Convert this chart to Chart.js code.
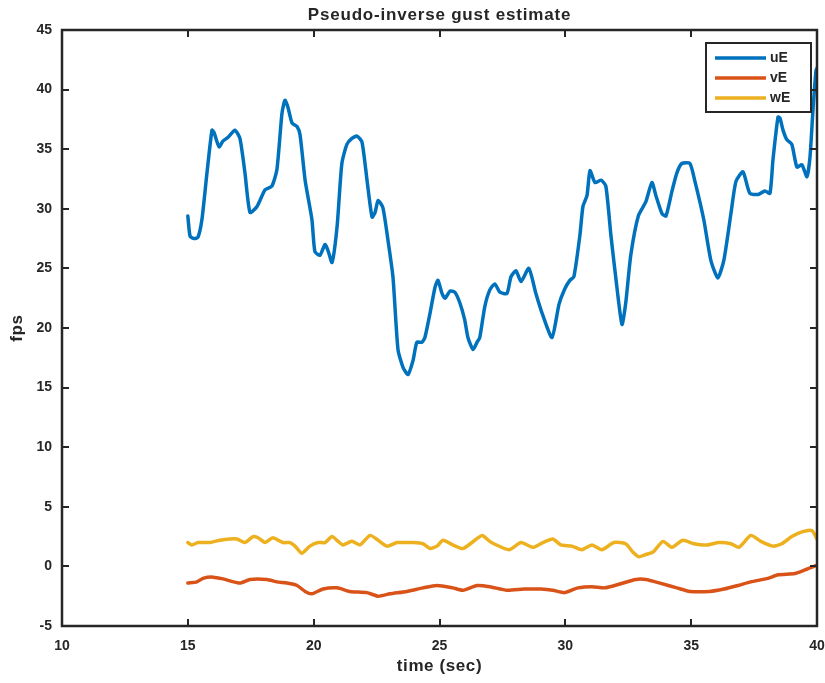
<!DOCTYPE html>
<html>
<head>
<meta charset="utf-8">
<script src="https://cdn.jsdelivr.net/npm/chart.js@4.4.1/dist/chart.umd.min.js"></script>
<style>
  html, body { margin: 0; padding: 0; background: #fff; }
  canvas { display: block; }
</style>
</head>
<body>
<canvas id="gust" width="825" height="683"></canvas>
<script>
//axis limits and tick labels
const xTicks = [10, 15, 20, 25, 30, 35, 40];
const yTicks = [-5, 0, 5, 10, 15, 20, 25, 30, 35, 40, 45];
const seriesNames = ["uE", "vE", "wE"];
const seriesColors = ["#0072BD", "#D95319", "#EDB120"];

//uE (time in sec, value in fps)
const uTime = [15.0, 15.09, 15.25, 15.4, 15.56, 15.76, 15.96, 16.04, 16.24, 16.4, 16.6, 16.87, 17.07, 17.27, 17.47, 17.75, 18.07, 18.34, 18.54, 18.74, 18.86, 18.98, 19.14, 19.34, 19.46, 19.66, 19.93, 20.05, 20.25, 20.45, 20.57, 20.73, 20.93, 21.12, 21.32, 21.52, 21.72, 21.92, 22.12, 22.32, 22.44, 22.56, 22.75, 22.95, 23.15, 23.35, 23.55, 23.75, 23.95, 24.1, 24.3, 24.42, 24.62, 24.82, 24.94, 25.1, 25.22, 25.42, 25.61, 25.81, 26.0, 26.13, 26.33, 26.49, 26.6, 26.8, 27.0, 27.2, 27.4, 27.68, 27.84, 28.04, 28.24, 28.55, 28.83, 29.1, 29.47, 29.75, 29.98, 30.18, 30.34, 30.58, 30.7, 30.86, 30.98, 31.18, 31.42, 31.61, 31.81, 32.0, 32.25, 32.4, 32.6, 32.9, 33.2, 33.44, 33.6, 33.84, 34.0, 34.24, 34.43, 34.63, 34.95, 35.15, 35.5, 35.78, 36.06, 36.3, 36.58, 36.78, 37.06, 37.33, 37.66, 37.93, 38.13, 38.25, 38.45, 38.53, 38.65, 38.8, 39.0, 39.2, 39.4, 39.6, 39.72, 39.84, 39.96, 40.0];
const uE = [29.4, 27.7, 27.5, 27.6, 29.1, 33.0, 36.6, 36.4, 35.2, 35.7, 36.0, 36.6, 35.9, 33.0, 29.7, 30.2, 31.6, 31.9, 33.3, 38.0, 39.1, 38.5, 37.2, 36.9, 36.2, 32.4, 29.1, 26.4, 26.1, 27.0, 26.5, 25.5, 28.5, 33.8, 35.4, 35.9, 36.1, 35.6, 32.4, 29.3, 29.7, 30.7, 30.1, 27.4, 24.3, 18.2, 16.7, 16.1, 17.3, 18.8, 18.8, 19.2, 21.2, 23.4, 24.0, 22.9, 22.5, 23.1, 23.0, 22.1, 20.7, 19.2, 18.2, 18.8, 19.2, 21.8, 23.2, 23.7, 23.0, 22.9, 24.3, 24.8, 23.9, 25.0, 22.9, 21.1, 19.2, 22.0, 23.3, 24.0, 24.3, 27.8, 30.2, 31.1, 33.2, 32.2, 32.4, 31.9, 27.8, 24.3, 20.3, 22.1, 26.1, 29.4, 30.6, 32.2, 31.1, 29.6, 29.4, 31.5, 33.0, 33.8, 33.8, 32.3, 29.1, 25.7, 24.2, 25.7, 29.6, 32.3, 33.1, 31.3, 31.2, 31.5, 31.3, 34.1, 37.7, 37.6, 36.6, 35.8, 35.4, 33.5, 33.7, 32.7, 34.3, 38.3, 41.6, 41.8];

//vE
const vTime = [15.0, 15.36, 15.6, 16.0, 16.4, 17.07, 17.47, 18.14, 18.54, 18.94, 19.34, 19.66, 19.93, 20.37, 20.93, 21.44, 22.12, 22.56, 23.03, 23.7, 24.34, 24.9, 25.53, 25.93, 26.49, 27.0, 27.68, 28.36, 29.03, 29.5, 29.98, 30.5, 31.06, 31.57, 32.13, 32.8, 33.2, 33.76, 34.43, 34.95, 35.74, 36.3, 36.86, 37.37, 38.05, 38.45, 39.12, 39.52, 40.0];
const vE = [-1.4, -1.3, -1.0, -0.9, -1.05, -1.4, -1.1, -1.1, -1.3, -1.4, -1.6, -2.1, -2.3, -1.9, -1.8, -2.1, -2.2, -2.5, -2.3, -2.1, -1.8, -1.6, -1.8, -2.0, -1.6, -1.7, -2.0, -1.9, -1.9, -2.0, -2.2, -1.8, -1.7, -1.8, -1.5, -1.1, -1.1, -1.4, -1.8, -2.1, -2.1, -1.9, -1.6, -1.3, -1.0, -0.7, -0.6, -0.3, 0.1];

//wE
const wTime = [15.0, 15.16, 15.4, 15.88, 16.28, 16.67, 16.95, 17.27, 17.59, 17.79, 18.07, 18.38, 18.78, 19.06, 19.26, 19.53, 19.85, 20.17, 20.45, 20.73, 20.97, 21.16, 21.52, 21.84, 22.24, 22.56, 22.91, 23.31, 23.63, 23.95, 24.34, 24.62, 24.9, 25.14, 25.53, 25.93, 26.29, 26.69, 27.0, 27.16, 27.76, 28.24, 28.71, 29.11, 29.5, 29.82, 30.26, 30.66, 31.06, 31.45, 31.93, 32.4, 32.68, 32.92, 33.2, 33.48, 33.88, 34.24, 34.67, 35.11, 35.63, 36.1, 36.58, 36.9, 37.37, 37.77, 38.25, 38.6, 39.0, 39.4, 39.8, 40.0];
const wE = [2.0, 1.8, 2.0, 2.0, 2.2, 2.3, 2.3, 2.0, 2.5, 2.4, 2.0, 2.4, 2.0, 2.0, 1.7, 1.1, 1.7, 2.0, 2.0, 2.5, 2.1, 1.8, 2.1, 1.8, 2.6, 2.2, 1.7, 2.0, 2.0, 2.0, 1.9, 1.5, 1.7, 2.2, 1.8, 1.5, 2.0, 2.6, 2.1, 1.9, 1.4, 2.0, 1.6, 2.0, 2.3, 1.8, 1.7, 1.4, 1.8, 1.4, 2.0, 1.9, 1.2, 0.8, 1.0, 1.2, 2.1, 1.6, 2.2, 1.9, 1.8, 2.0, 1.9, 1.6, 2.6, 2.1, 1.7, 1.9, 2.5, 2.9, 3.0, 2.3];

const FONT = '"Liberation Sans", Arial, sans-serif';
const INK = "#262626";

const pts = (t, v) => t.map((x, i) => ({ x: x, y: v[i] }));

//box, inward ticks, legend and labels drawn matlab style
const frame = {
  id: "frame",
  afterDatasetsDraw(chart) {
    const ctx = chart.ctx;
    const { left, right, top, bottom } = chart.chartArea;
    const xs = chart.scales.x, ys = chart.scales.y;
    const tl = 7;
    ctx.save();
    ctx.strokeStyle = INK;
    ctx.lineWidth = 2;
    ctx.beginPath();
    xs.ticks.forEach(t => {
      const px = Math.round(xs.getPixelForValue(t.value));
      ctx.moveTo(px, bottom); ctx.lineTo(px, bottom - tl);
      ctx.moveTo(px, top); ctx.lineTo(px, top + tl);
    });
    ys.ticks.forEach(t => {
      const py = Math.round(ys.getPixelForValue(t.value));
      ctx.moveTo(left, py); ctx.lineTo(left + tl, py);
      ctx.moveTo(right, py); ctx.lineTo(right - tl, py);
    });
    ctx.stroke();
    ctx.lineWidth = 2.5;
    ctx.strokeRect(left, top, right - left, bottom - top);

    //legend
    const bx = 706, by = 43, bw = 105, bh = 69;
    ctx.fillStyle = "#fff";
    ctx.fillRect(bx, by, bw, bh);
    ctx.lineWidth = 2;
    ctx.strokeRect(bx, by, bw, bh);
    ctx.font = "bold 14px " + FONT;
    ctx.textBaseline = "middle";
    ctx.textAlign = "left";
    chart.data.datasets.forEach((ds, i) => {
      const ly = by + 15 + i * 20;
      ctx.strokeStyle = ds.borderColor;
      ctx.lineWidth = 3.5;
      ctx.beginPath();
      ctx.moveTo(bx + 9, ly); ctx.lineTo(bx + 60, ly);
      ctx.stroke();
      ctx.fillStyle = INK;
      ctx.fillText(ds.label, bx + 64, ly);
    });

    //title and axis labels
    const cx = (left + right) / 2;
    ctx.fillStyle = INK;
    ctx.textAlign = "center";
    ctx.letterSpacing = "0.8px";
    ctx.font = "bold 17px " + FONT;
    ctx.fillText("Pseudo-inverse gust estimate", cx, 15);
    ctx.letterSpacing = "0.6px";
    ctx.fillText("time (sec)", cx, 666);
    ctx.translate(17, (top + bottom) / 2);
    ctx.rotate(-Math.PI / 2);
    ctx.fillText("fps", 0, 0);
    ctx.restore();
  }
};

const tickFont = { family: FONT, size: 14, weight: "bold" };

new Chart(document.getElementById("gust"), {
  type: "line",
  data: {
    datasets: [
      { label: seriesNames[0], data: pts(uTime, uE), borderColor: seriesColors[0], borderWidth: 3.5 },
      { label: seriesNames[1], data: pts(vTime, vE), borderColor: seriesColors[1], borderWidth: 3.5 },
      { label: seriesNames[2], data: pts(wTime, wE), borderColor: seriesColors[2], borderWidth: 3.5 },
    ],
  },
  options: {
    responsive: false,
    animation: false,
    elements: { point: { radius: 0 }, line: { tension: 0.2, borderJoinStyle: "round", borderCapStyle: "round" } },
    layout: { padding: { top: 30, right: 8, left: 0, bottom: 0 } },
    plugins: { legend: { display: false }, title: { display: false }, tooltip: { enabled: false } },
    scales: {
      x: {
        type: "linear",
        min: xTicks[0],
        max: xTicks[xTicks.length - 1],
        afterBuildTicks: s => { s.ticks = xTicks.map(v => ({ value: v })); },
        ticks: { color: INK, font: tickFont, padding: 12, maxRotation: 0 },
        grid: { display: false, drawTicks: false },
        border: { display: false },
        afterFit: s => { s.height = 57; s.paddingLeft = 0; s.paddingRight = 0; },
      },
      y: {
        min: yTicks[0],
        max: yTicks[yTicks.length - 1],
        afterBuildTicks: s => { s.ticks = yTicks.map(v => ({ value: v })); },
        ticks: { color: INK, font: tickFont, padding: 10 },
        grid: { display: false, drawTicks: false },
        border: { display: false },
        afterFit: s => { s.width = 62; },
      },
    },
  },
  plugins: [frame],
});
</script>
</body>
</html>
